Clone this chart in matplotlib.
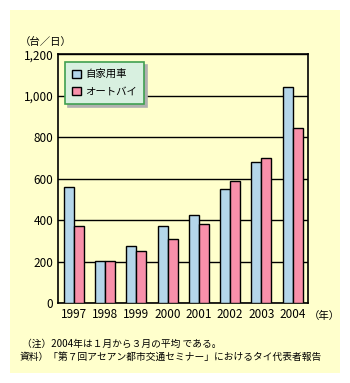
import matplotlib
matplotlib.use("Agg")
import matplotlib.pyplot as plt
import numpy as np
from matplotlib.patches import Rectangle

plt.rcParams['font.family'] = ['Noto Sans CJK JP', 'DejaVu Sans']

years = ['1997', '1998', '1999', '2000', '2001', '2002', '2003', '2004']
car = [559, 205, 275, 371, 424, 549, 680, 1041]      # 自家用車
bike = [374, 205, 251, 308, 381, 588, 699, 843]      # オートバイ
series_names = ['自家用車', 'オートバイ']
yticks = [0, 200, 400, 600, 800, 1000, 1200]
ytick_labels = ['0', '200', '400', '600', '800', '1,000', '1,200']

bg = '#ffffcc'
blue = '#b4d6ea'
pink = '#f890aa'

fig = plt.figure(figsize=(3.5, 3.83), dpi=100)
fig.patch.set_facecolor('white')
# yellow panel behind everything
fig.patches.append(Rectangle((10/350, 1 - 373/383), 330/350, 363/383,
                             transform=fig.transFigure, facecolor=bg,
                             edgecolor='none', zorder=-10))

ax = fig.add_axes([58.3/350, 1 - 303.3/383, 250/350, 249/383])
ax.set_facecolor(bg)

x = np.arange(len(years))
w = 0.32
b1 = ax.bar(x - w/2, car, w, color=blue, edgecolor='black', linewidth=1, zorder=3)
b2 = ax.bar(x + w/2, bike, w, color=pink, edgecolor='black', linewidth=1, zorder=3)

ax.set_xlim(-0.5, 7.5)
ax.set_ylim(0, 1200)
ax.set_yticks(yticks)
ax.set_yticklabels(ytick_labels)
ax.set_xticks(x)
ax.set_xticklabels(years)
ax.tick_params(length=0, labelsize=8.5, pad=3.5)
ax.yaxis.grid(True, color='black', linewidth=1)
ax.set_axisbelow(True)
for s in ax.spines.values():
    s.set_linewidth(1.2)

leg = ax.legend([b1, b2], series_names, loc='upper left',
                bbox_to_anchor=(0.027, 0.97), borderaxespad=0, fontsize=7.5,
                fancybox=False, shadow={'color': '#b0b0b0', 'alpha': 1},
                handlelength=0.8, handleheight=0.8, handletextpad=0.4,
                borderpad=0.7, labelspacing=0.7, framealpha=1)
leg.get_frame().set_facecolor('#d8f0e0')
leg.get_frame().set_edgecolor('#40a050')
leg.get_frame().set_linewidth(1.2)

fig.text(20/350, 1 - 42/383, '（台／日）', fontsize=7.5, va='center', ha='left')
fig.text(309/350, 1 - 316/383, '（年）', fontsize=7.5, va='center', ha='left')
fig.text(22/350, 1 - 344/383, '（注）2004年は１月から３月の平均 である。',
         fontsize=7, va='center', ha='left')
fig.text(20/350, 1 - 357/383, '資料）「第７回アセアン都市交通セミナー」におけるタイ代表者報告',
         fontsize=7, va='center', ha='left')

fig.savefig('out.png', dpi=100, facecolor='white')
